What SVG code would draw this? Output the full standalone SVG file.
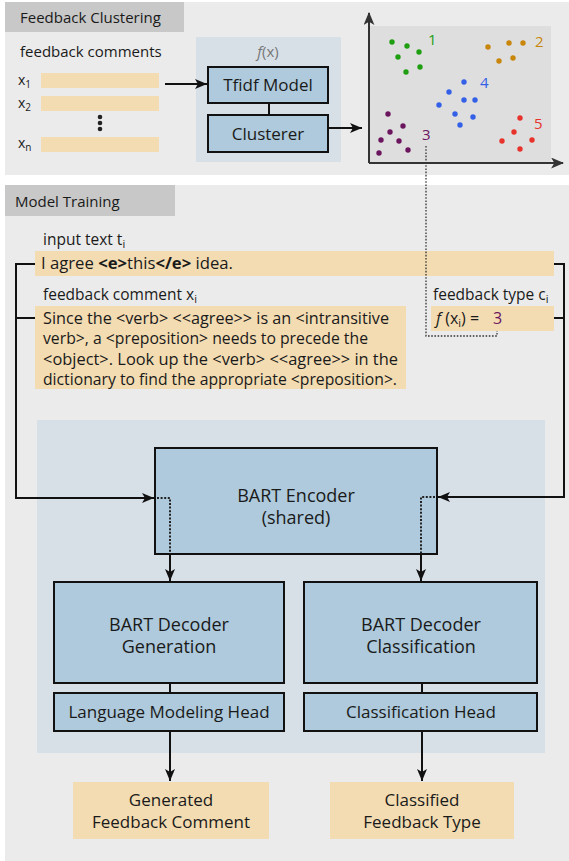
<svg xmlns="http://www.w3.org/2000/svg" width="569" height="861" viewBox="0 0 569 861">
  <style>
    text { font-family: "Open Sans", "Noto Sans", "DejaVu Sans", sans-serif; fill: #1a1a1a; }
    .panel { fill: #ebebeb; }
    .tab { fill: #c8c8c8; }
    .zone { fill: #d7dfe7; }
    .node { fill: #aecadc; stroke: #111; stroke-width: 2; }
    .beige { fill: #f3dcb2; }
    .wire { fill: none; stroke: #111; stroke-width: 2; }
    .dots { fill: none; stroke: #222; stroke-width: 2; stroke-dasharray: 2 1.6; }
    .thin-dots { fill: none; stroke: #333; stroke-width: 1.3; stroke-dasharray: 1.6 1.6; }
    .t15 { font-size: 15px; }
    .t14 { font-size: 14px; }
    .lbl { font-size: 15.5px; }
    .body { font-size: 16px; }
    .t17 { font-size: 17px; }
    .t18 { font-size: 18px; }
    .mid { text-anchor: middle; }
  </style>
  <defs>
    <marker id="head" viewBox="0 0 12 10" refX="12" refY="5" markerWidth="12" markerHeight="10" markerUnits="userSpaceOnUse" orient="auto">
      <path d="M0,0 L12,5 L0,10 L3,5 Z" fill="#111"/>
    </marker>
    <marker id="axis-head" viewBox="0 0 12 10" refX="11" refY="5" markerWidth="13" markerHeight="11" markerUnits="userSpaceOnUse" orient="auto">
      <path d="M0,0 L12,5 L0,10 L3,5 Z" fill="#333"/>
    </marker>
  </defs>

  <!-- Feedback Clustering panel -->
  <g id="panel-clustering">
    <rect class="panel" x="5" y="2" width="564" height="173"/>
    <rect class="tab" x="5" y="2" width="179" height="30"/>
    <text class="t15" x="20" y="23">Feedback Clustering</text>
  </g>

  <g id="feedback-comments">
    <text class="t15" x="20" y="57">feedback comments</text>
    <rect class="beige" x="41" y="73" width="118" height="15"/>
    <rect class="beige" x="41" y="96" width="118" height="15"/>
    <rect class="beige" x="41" y="137" width="118" height="15"/>
    <text class="t14" x="18" y="85">x<tspan font-size="10" dy="3">1</tspan></text>
    <text class="t14" x="18" y="108">x<tspan font-size="10" dy="3">2</tspan></text>
    <text class="t14" x="18" y="148">x<tspan font-size="10" dy="3">n</tspan></text>
    <circle cx="100" cy="117" r="2.3" fill="#222"/>
    <circle cx="100" cy="123" r="2.3" fill="#222"/>
    <circle cx="100" cy="129" r="2.3" fill="#222"/>
  </g>

  <g id="fx">
    <rect class="zone" x="196" y="37" width="145" height="125"/>
    <text class="t15 mid" x="268" y="57" style="fill:#777"><tspan font-style="italic">f</tspan>(x)</text>
  </g>

  <g id="tfidf-model">
    <rect class="node" x="208" y="67" width="120" height="36"/>
    <text class="t17 mid" x="268" y="91">Tfidf Model</text>
  </g>

  <g id="clusterer">
    <rect class="node" x="208" y="115" width="120" height="37"/>
    <text class="t17 mid" x="268" y="140">Clusterer</text>
  </g>

  <g id="scatter-plot">
    <rect x="369" y="26" width="182" height="137" fill="#dedede"/>
    <line x1="369" y1="163" x2="369" y2="13" stroke="#333" stroke-width="2" marker-end="url(#axis-head)"/>
    <line x1="369" y1="163" x2="563" y2="163" stroke="#333" stroke-width="2" marker-end="url(#axis-head)"/>
    <g fill="#1f9e12">
      <circle cx="392" cy="42" r="2.7"/><circle cx="407" cy="46" r="2.7"/><circle cx="419" cy="52" r="2.7"/>
      <circle cx="398" cy="57" r="2.7"/><circle cx="406" cy="72" r="2.7"/><circle cx="420" cy="67" r="2.7"/>
    </g>
    <g fill="#c8860a">
      <circle cx="488" cy="47" r="2.7"/><circle cx="509" cy="43" r="2.7"/><circle cx="523" cy="43" r="2.7"/>
      <circle cx="499" cy="61" r="2.7"/><circle cx="513" cy="58" r="2.7"/>
    </g>
    <g fill="#3460e8">
      <circle cx="464" cy="82" r="2.7"/><circle cx="449" cy="92" r="2.7"/><circle cx="464" cy="100" r="2.7"/>
      <circle cx="475" cy="100" r="2.7"/><circle cx="439" cy="105" r="2.7"/><circle cx="455" cy="114" r="2.7"/>
      <circle cx="473" cy="117" r="2.7"/><circle cx="460" cy="125" r="2.7"/>
    </g>
    <g fill="#e8332c">
      <circle cx="520" cy="118" r="2.7"/><circle cx="514" cy="132" r="2.7"/><circle cx="502" cy="141" r="2.7"/>
      <circle cx="532" cy="140" r="2.7"/><circle cx="520" cy="149" r="2.7"/>
    </g>
    <g fill="#6a155e">
      <circle cx="388" cy="114" r="2.7"/><circle cx="403" cy="126" r="2.7"/><circle cx="390" cy="132" r="2.7"/>
      <circle cx="381" cy="140" r="2.7"/><circle cx="399" cy="141" r="2.7"/><circle cx="379" cy="153" r="2.7"/>
      <circle cx="408" cy="150" r="2.7"/>
    </g>
    <text class="t15" x="428" y="45" style="fill:#1f9e12">1</text>
    <text class="t15" x="535" y="47" style="fill:#c8860a">2</text>
    <text class="t15" x="422" y="140" style="fill:#6a155e">3</text>
    <text class="t15" x="480" y="88" style="fill:#3460e8">4</text>
    <text class="t15" x="534" y="129" style="fill:#e8332c">5</text>
  </g>

  <!-- Model Training panel -->
  <g id="panel-training">
    <rect class="panel" x="5" y="185" width="564" height="676"/>
    <rect class="tab" x="5" y="185" width="170" height="31"/>
    <text class="t15" x="15" y="207">Model Training</text>
    <rect class="zone" x="37" y="420" width="508" height="333"/>
  </g>

  <g id="input-text">
    <text class="lbl" x="43" y="245">input text t<tspan font-size="11" dy="3">i</tspan></text>
    <rect class="beige" x="35" y="251" width="519" height="25"/>
    <text class="body" x="41" y="269" textLength="192" lengthAdjust="spacingAndGlyphs">I agree <tspan font-weight="bold">&lt;e&gt;</tspan>this<tspan font-weight="bold">&lt;/e&gt;</tspan> idea.</text>
  </g>

  <g id="feedback-comment">
    <text class="lbl" x="43" y="300">feedback comment x<tspan font-size="11" dy="3">i</tspan></text>
    <rect class="beige" x="35" y="306" width="371" height="83"/>
    <text class="body" x="43" y="324" textLength="346" lengthAdjust="spacingAndGlyphs">Since the &lt;verb&gt; &lt;&lt;agree&gt;&gt; is an &lt;intransitive</text>
    <text class="body" x="43" y="344" textLength="325" lengthAdjust="spacingAndGlyphs">verb&gt;, a &lt;preposition&gt; needs to precede the</text>
    <text class="body" x="43" y="365" textLength="355" lengthAdjust="spacingAndGlyphs">&lt;object&gt;. Look up the &lt;verb&gt; &lt;&lt;agree&gt;&gt; in the</text>
    <text class="body" x="43" y="385" textLength="354" lengthAdjust="spacingAndGlyphs">dictionary to find the appropriate &lt;preposition&gt;.</text>
  </g>

  <g id="feedback-type">
    <text class="lbl" x="433" y="300">feedback type c<tspan font-size="11" dy="3">i</tspan></text>
    <rect class="beige" x="431" y="306" width="123" height="25"/>
    <text class="body" x="436" y="324"><tspan font-style="italic">f</tspan> (x<tspan font-size="11" dy="3">i</tspan><tspan dy="-3">) = </tspan><tspan x="493" style="fill:#6a155e">3</tspan></text>
  </g>

  <g id="bart-encoder">
    <rect class="node" x="155" y="448" width="282" height="106"/>
    <text class="t18 mid" x="296" y="502">BART Encoder</text>
    <text class="t18 mid" x="296" y="524">(shared)</text>
  </g>

  <g id="decoder-generation">
    <rect class="node" x="54" y="582" width="230" height="101"/>
    <text class="t18 mid" x="169" y="631">BART Decoder</text>
    <text class="t18 mid" x="169" y="653">Generation</text>
  </g>

  <g id="lm-head">
    <rect class="node" x="54" y="693" width="230" height="38"/>
    <text class="t17 mid" x="169" y="718">Language Modeling Head</text>
  </g>

  <g id="decoder-classification">
    <rect class="node" x="304" y="582" width="233" height="101"/>
    <text class="t18 mid" x="421" y="631">BART Decoder</text>
    <text class="t18 mid" x="421" y="653">Classification</text>
  </g>

  <g id="classification-head">
    <rect class="node" x="304" y="693" width="233" height="38"/>
    <text class="t17 mid" x="421" y="718">Classification Head</text>
  </g>

  <g id="generated-comment">
    <rect class="beige" x="73" y="782" width="196" height="57"/>
    <text class="t17 mid" x="171" y="806">Generated</text>
    <text class="t17 mid" x="171" y="828">Feedback Comment</text>
  </g>

  <g id="classified-type">
    <rect class="beige" x="330" y="782" width="184" height="57"/>
    <text class="t17 mid" x="422" y="806">Classified</text>
    <text class="t17 mid" x="422" y="828">Feedback Type</text>
  </g>

  <g id="connectors">
    <line class="wire" x1="165" y1="84" x2="207" y2="84" marker-end="url(#head)"/>
    <line class="wire" x1="269" y1="103" x2="269" y2="115"/>
    <line class="wire" x1="328" y1="128" x2="362" y2="128" marker-end="url(#head)"/>
    <path class="thin-dots" d="M426,146 V336 H497 V331"/>
    <!-- text inputs into the encoder -->
    <path class="wire" d="M35,264 H16 V498 H154" marker-end="url(#head)"/>
    <line class="wire" x1="16" y1="318" x2="35" y2="318"/>
    <path class="wire" d="M554,264 H564 V497 H438" marker-end="url(#head)"/>
    <line class="wire" x1="554" y1="318" x2="564" y2="318"/>
    <!-- encoder to decoders -->
    <path class="dots" d="M157,498 H170 V554"/>
    <line class="wire" x1="170" y1="554" x2="170" y2="581" marker-end="url(#head)"/>
    <path class="dots" d="M435,497 H421 V554"/>
    <line class="wire" x1="421" y1="554" x2="421" y2="581" marker-end="url(#head)"/>
    <line class="wire" x1="170" y1="683" x2="170" y2="693"/>
    <line class="wire" x1="422" y1="683" x2="422" y2="693"/>
    <line class="wire" x1="170" y1="731" x2="170" y2="781" marker-end="url(#head)"/>
    <line class="wire" x1="422" y1="731" x2="422" y2="781" marker-end="url(#head)"/>
  </g>
</svg>
